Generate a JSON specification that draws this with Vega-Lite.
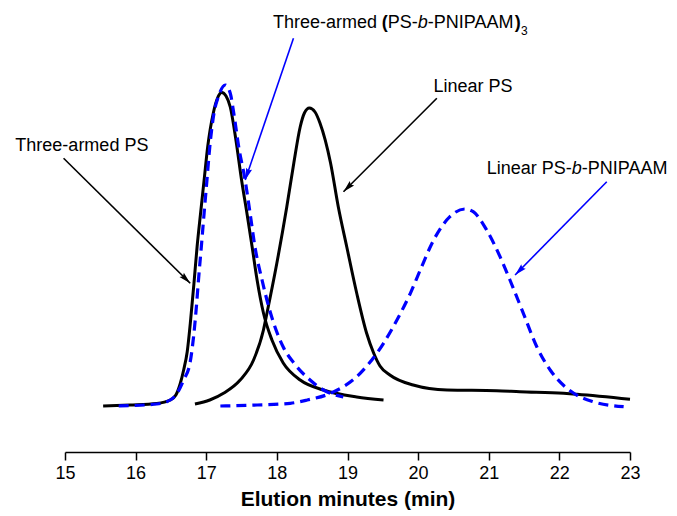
{
  "$schema": "https://vega.github.io/schema/vega-lite/v6.json",
  "width": 565,
  "height": 432,
  "autosize": {"type": "none"},
  "padding": {"left": 65, "top": 20, "right": 47, "bottom": 64},
  "background": "white",
  "config": {"view": {"stroke": null}, "font": "Liberation Sans"},
  "datasets": {
    "curves": [
      {"s": "3PS", "t": 15.54, "v": 46}, {"s": "3PS", "t": 15.92, "v": 47}, {"s": "3PS", "t": 16.30, "v": 48.5}, {"s": "3PS", "t": 16.49, "v": 52}, {"s": "3PS", "t": 16.57, "v": 57}, {"s": "3PS", "t": 16.63, "v": 68}, {"s": "3PS", "t": 16.68, "v": 82}, {"s": "3PS", "t": 16.73, "v": 100}, {"s": "3PS", "t": 16.78, "v": 133}, {"s": "3PS", "t": 16.83, "v": 172}, {"s": "3PS", "t": 16.87, "v": 205}, {"s": "3PS", "t": 16.92, "v": 239}, {"s": "3PS", "t": 16.97, "v": 272}, {"s": "3PS", "t": 17.02, "v": 305}, {"s": "3PS", "t": 17.10, "v": 339}, {"s": "3PS", "t": 17.16, "v": 354}, {"s": "3PS", "t": 17.22, "v": 359.5}, {"s": "3PS", "t": 17.28, "v": 356}, {"s": "3PS", "t": 17.34, "v": 345}, {"s": "3PS", "t": 17.42, "v": 312}, {"s": "3PS", "t": 17.50, "v": 272}, {"s": "3PS", "t": 17.58, "v": 237}, {"s": "3PS", "t": 17.65, "v": 205}, {"s": "3PS", "t": 17.72, "v": 172}, {"s": "3PS", "t": 17.81, "v": 139}, {"s": "3PS", "t": 17.93, "v": 112}, {"s": "3PS", "t": 18.09, "v": 89}, {"s": "3PS", "t": 18.33, "v": 72}, {"s": "3PS", "t": 18.66, "v": 62}, {"s": "3PS", "t": 19.13, "v": 55}, {"s": "3PS", "t": 19.51, "v": 52},
      {"s": "LPS", "t": 16.84, "v": 48}, {"s": "LPS", "t": 17.05, "v": 52}, {"s": "LPS", "t": 17.25, "v": 59}, {"s": "LPS", "t": 17.48, "v": 72}, {"s": "LPS", "t": 17.67, "v": 92}, {"s": "LPS", "t": 17.81, "v": 122}, {"s": "LPS", "t": 17.86, "v": 139}, {"s": "LPS", "t": 18.00, "v": 189}, {"s": "LPS", "t": 18.14, "v": 245}, {"s": "LPS", "t": 18.24, "v": 289}, {"s": "LPS", "t": 18.33, "v": 325}, {"s": "LPS", "t": 18.39, "v": 339}, {"s": "LPS", "t": 18.46, "v": 344}, {"s": "LPS", "t": 18.54, "v": 340}, {"s": "LPS", "t": 18.61, "v": 329}, {"s": "LPS", "t": 18.76, "v": 289}, {"s": "LPS", "t": 18.87, "v": 245}, {"s": "LPS", "t": 18.99, "v": 205}, {"s": "LPS", "t": 19.13, "v": 159}, {"s": "LPS", "t": 19.27, "v": 119}, {"s": "LPS", "t": 19.37, "v": 99}, {"s": "LPS", "t": 19.46, "v": 86}, {"s": "LPS", "t": 19.60, "v": 77}, {"s": "LPS", "t": 19.93, "v": 67}, {"s": "LPS", "t": 20.41, "v": 62}, {"s": "LPS", "t": 21.11, "v": 61.3}, {"s": "LPS", "t": 21.44, "v": 60.3}, {"s": "LPS", "t": 22.06, "v": 58.7}, {"s": "LPS", "t": 22.25, "v": 57.7}, {"s": "LPS", "t": 23.00, "v": 52.7},
      {"s": "3PSb", "t": 15.76, "v": 46}, {"s": "3PSb", "t": 16.30, "v": 48}, {"s": "3PSb", "t": 16.49, "v": 52}, {"s": "3PSb", "t": 16.59, "v": 59}, {"s": "3PSb", "t": 16.68, "v": 72}, {"s": "3PSb", "t": 16.77, "v": 89}, {"s": "3PSb", "t": 16.82, "v": 115}, {"s": "3PSb", "t": 16.86, "v": 145}, {"s": "3PSb", "t": 16.89, "v": 172}, {"s": "3PSb", "t": 16.93, "v": 205}, {"s": "3PSb", "t": 16.97, "v": 239}, {"s": "3PSb", "t": 17.01, "v": 272}, {"s": "3PSb", "t": 17.05, "v": 305}, {"s": "3PSb", "t": 17.11, "v": 339}, {"s": "3PSb", "t": 17.17, "v": 355}, {"s": "3PSb", "t": 17.27, "v": 367}, {"s": "3PSb", "t": 17.34, "v": 358.7}, {"s": "3PSb", "t": 17.39, "v": 338.7}, {"s": "3PSb", "t": 17.46, "v": 305}, {"s": "3PSb", "t": 17.55, "v": 272}, {"s": "3PSb", "t": 17.62, "v": 239}, {"s": "3PSb", "t": 17.69, "v": 205}, {"s": "3PSb", "t": 17.79, "v": 172}, {"s": "3PSb", "t": 17.91, "v": 139}, {"s": "3PSb", "t": 18.09, "v": 105}, {"s": "3PSb", "t": 18.24, "v": 89}, {"s": "3PSb", "t": 18.47, "v": 72}, {"s": "3PSb", "t": 18.66, "v": 62}, {"s": "3PSb", "t": 18.94, "v": 55},
      {"s": "LPSb", "t": 17.20, "v": 46}, {"s": "LPSb", "t": 17.72, "v": 47}, {"s": "LPSb", "t": 18.19, "v": 48.7}, {"s": "LPSb", "t": 18.43, "v": 52}, {"s": "LPSb", "t": 18.76, "v": 58.7}, {"s": "LPSb", "t": 19.13, "v": 75.3}, {"s": "LPSb", "t": 19.51, "v": 108.7}, {"s": "LPSb", "t": 19.70, "v": 132}, {"s": "LPSb", "t": 19.89, "v": 158.7}, {"s": "LPSb", "t": 20.03, "v": 182}, {"s": "LPSb", "t": 20.22, "v": 212}, {"s": "LPSb", "t": 20.45, "v": 235.3}, {"s": "LPSb", "t": 20.66, "v": 243}, {"s": "LPSb", "t": 20.78, "v": 240.3}, {"s": "LPSb", "t": 20.97, "v": 222}, {"s": "LPSb", "t": 21.16, "v": 195.3}, {"s": "LPSb", "t": 21.30, "v": 172}, {"s": "LPSb", "t": 21.49, "v": 138.7}, {"s": "LPSb", "t": 21.68, "v": 105.3}, {"s": "LPSb", "t": 21.87, "v": 82}, {"s": "LPSb", "t": 22.08, "v": 65.3}, {"s": "LPSb", "t": 22.22, "v": 58}, {"s": "LPSb", "t": 22.48, "v": 50.3}, {"s": "LPSb", "t": 22.91, "v": 45.3}
    ],
    "labels": [
      {"k": "normal", "t": 14.297, "v": 306, "text": "Three-armed PS"},
      {"k": "normal", "t": 17.944, "v": 428.7, "text": "Three-armed"},
      {"k": "bold", "t": 19.486, "v": 428.7, "text": "("},
      {"k": "normal", "t": 19.571, "v": 428.7, "text": "PS-"},
      {"k": "italic", "t": 19.996, "v": 428.7, "text": "b"},
      {"k": "normal", "t": 20.137, "v": 428.7, "text": "-PNIPAAM"},
      {"k": "bold", "t": 21.369, "v": 428.7, "text": ")"},
      {"k": "sub", "t": 21.458, "v": 421, "text": "3"},
      {"k": "normal", "t": 20.217, "v": 365.3, "text": "Linear PS"},
      {"k": "normal", "t": 20.972, "v": 282.8, "text": "Linear PS-"},
      {"k": "italic", "t": 22.175, "v": 282.8, "text": "b"},
      {"k": "normal", "t": 22.317, "v": 282.8, "text": "-PNIPAAM"}
    ],
    "arrows": [
      {"g": "black", "t": 14.980, "v": 293.7, "t2": 16.773, "v2": 168.7},
      {"g": "blue", "t": 18.235, "v": 413.7, "t2": 17.552, "v2": 272},
      {"g": "black", "t": 20.265, "v": 353.7, "t2": 18.943, "v2": 260.3},
      {"g": "blue", "t": 22.671, "v": 270.3, "t2": 21.373, "v2": 177}
    ]
  },
  "layer": [
    {
      "data": {"name": "curves"},
      "transform": [{"filter": "datum.s === '3PS' || datum.s === 'LPS'"}],
      "mark": {"type": "line", "interpolate": "monotone", "strokeWidth": 3, "color": "black", "clip": false},
      "encoding": {
        "x": {
          "field": "t", "type": "quantitative",
          "scale": {"domain": [15, 23], "nice": false, "zero": false},
          "axis": {
            "title": "Elution minutes (min)",
            "values": [15, 15.5, 16, 16.5, 17, 17.5, 18, 18.5, 19, 19.5, 20, 20.5, 21, 21.5, 22, 22.5, 23],
            "labelExpr": "datum.value % 1 === 0 ? format(datum.value, 'd') : ''",
            "tickSize": {"condition": {"test": "datum.value % 1 !== 0", "value": 4.5}, "value": 8},
            "grid": false,
            "domainColor": "black", "domainWidth": 1.5,
            "tickColor": "black", "tickWidth": 1.5,
            "labelFontSize": 18, "labelColor": "black", "labelFont": "Liberation Sans",
            "labelPadding": 4, "labelOverlap": false, "labelFlush": false,
            "titleFontSize": 21, "titleFontWeight": "bold", "titleColor": "black", "titleFont": "Liberation Sans",
            "titlePadding": 6
          }
        },
        "y": {"field": "v", "type": "quantitative", "scale": {"domain": [0, 432], "nice": false}, "axis": null},
        "detail": {"field": "s"}
      }
    },
    {
      "data": {"name": "curves"},
      "transform": [{"filter": "datum.s === '3PSb' || datum.s === 'LPSb'"}],
      "mark": {"type": "line", "interpolate": "monotone", "strokeWidth": 3.2, "color": "#0000ff", "strokeDash": [10, 6], "clip": false},
      "encoding": {
        "x": {"field": "t", "type": "quantitative"},
        "y": {"field": "v", "type": "quantitative"},
        "detail": {"field": "s"}
      }
    },
    {
      "data": {"name": "arrows"},
      "mark": {"type": "rule", "strokeWidth": 1.6},
      "encoding": {
        "x": {"field": "t", "type": "quantitative"},
        "y": {"field": "v", "type": "quantitative"},
        "x2": {"field": "t2"},
        "y2": {"field": "v2"},
        "color": {"field": "g", "type": "nominal", "scale": {"domain": ["black", "blue"], "range": ["#000000", "#0000ff"]}, "legend": null}
      }
    },
    {
      "data": {"name": "arrows"},
      "transform": [{"calculate": "atan2((datum.t2 - datum.t) * 70.625, datum.v2 - datum.v) * 180 / PI", "as": "ang"}],
      "mark": {"type": "point", "filled": true, "opacity": 1, "shape": "M0,0 L-0.26,1 L0,0.85 L0.26,1 Z", "size": 576},
      "encoding": {
        "x": {"field": "t2", "type": "quantitative"},
        "y": {"field": "v2", "type": "quantitative"},
        "angle": {"field": "ang", "type": "quantitative", "scale": null},
        "color": {"field": "g", "type": "nominal", "scale": {"domain": ["black", "blue"], "range": ["#000000", "#0000ff"]}, "legend": null}
      }
    },
    {
      "data": {"name": "labels"},
      "transform": [{"filter": "datum.k === 'normal'"}],
      "mark": {"type": "text", "align": "left", "baseline": "middle", "fontSize": 18, "font": "Liberation Sans", "color": "black"},
      "encoding": {
        "x": {"field": "t", "type": "quantitative"},
        "y": {"field": "v", "type": "quantitative"},
        "text": {"field": "text"}
      }
    },
    {
      "data": {"name": "labels"},
      "transform": [{"filter": "datum.k === 'bold'"}],
      "mark": {"type": "text", "align": "left", "baseline": "middle", "fontSize": 18, "fontWeight": "bold", "font": "Liberation Sans", "color": "black"},
      "encoding": {
        "x": {"field": "t", "type": "quantitative"},
        "y": {"field": "v", "type": "quantitative"},
        "text": {"field": "text"}
      }
    },
    {
      "data": {"name": "labels"},
      "transform": [{"filter": "datum.k === 'italic'"}],
      "mark": {"type": "text", "align": "left", "baseline": "middle", "fontSize": 18, "fontStyle": "italic", "font": "Liberation Sans", "color": "black"},
      "encoding": {
        "x": {"field": "t", "type": "quantitative"},
        "y": {"field": "v", "type": "quantitative"},
        "text": {"field": "text"}
      }
    },
    {
      "data": {"name": "labels"},
      "transform": [{"filter": "datum.k === 'sub'"}],
      "mark": {"type": "text", "align": "left", "baseline": "middle", "fontSize": 12, "font": "Liberation Sans", "color": "black"},
      "encoding": {
        "x": {"field": "t", "type": "quantitative"},
        "y": {"field": "v", "type": "quantitative"},
        "text": {"field": "text"}
      }
    }
  ]
}
